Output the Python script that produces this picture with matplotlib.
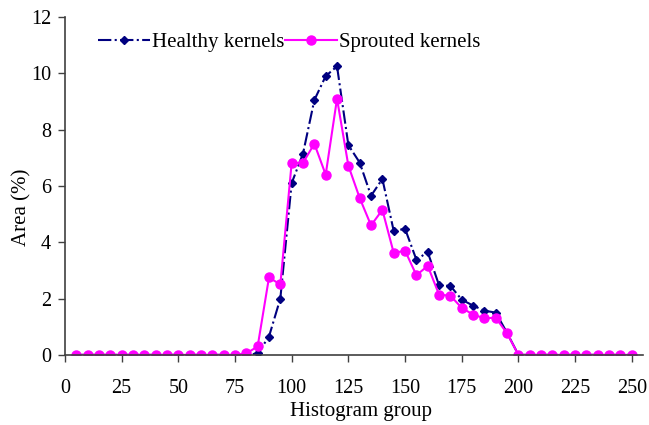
import numpy as np
import matplotlib
matplotlib.use("Agg")
import matplotlib.pyplot as plt

plt.rcParams['font.family'] = ['Liberation Serif', 'DejaVu Serif']

groups = list(range(5, 255, 5))

healthy = [0]*16 + [0.05, 0.65, 2.0, 6.1, 7.15, 9.05, 9.9, 10.25, 7.45, 6.83,
                    5.65, 6.25, 4.4, 4.48, 3.38, 3.65, 2.47, 2.45, 1.96, 1.75,
                    1.57, 1.5, 0.78] + [0]*11
sprouted = [0]*15 + [0.05, 0.3, 2.75, 2.5, 6.82, 6.82, 7.5, 6.4, 9.1, 6.72,
                     5.57, 4.6, 5.15, 3.62, 3.7, 2.83, 3.16, 2.14, 2.1, 1.67,
                     1.43, 1.3, 1.32, 0.76] + [0]*11

xticks = [0, 25, 50, 75, 100, 125, 150, 175, 200, 225, 250]
yticks = [0, 2, 4, 6, 8, 10, 12]

fig = plt.figure(figsize=(6.49, 4.25), dpi=100)
ax = fig.add_axes([0.100, 0.165, 0.891, 0.795])

ax.plot(groups, healthy, color='#000080', ls='-.', lw=1.5, marker='D', ms=4,
        label='Healthy kernels')
ax.plot(groups, sprouted, color='#FF00FF', ls='-', lw=1.5, marker='o', ms=6.5,
        label='Sprouted kernels')

ax.set_xlim(0, 255)
ax.set_ylim(0, 12)
ax.set_xticks(xticks)
ax.set_yticks(yticks)
ax.tick_params(labelsize=14.5, direction='out', length=5, width=1, color='#404040')
ax.tick_params(axis='x', pad=12.5)
ax.tick_params(axis='y', pad=5)
for s in ['top', 'right']:
    ax.spines[s].set_visible(False)
for s in ['left', 'bottom']:
    ax.spines[s].set_color('#404040')
    ax.spines[s].set_linewidth(1.2)

ax.set_xlabel('Histogram group', fontsize=15)
ax.set_ylabel('Area (%)', fontsize=15)
ax.xaxis.set_label_coords(0.512, -0.139)
ax.yaxis.set_label_coords(-0.057, 0.437)

ax.legend(loc='center left', bbox_to_anchor=(0.151, 0.901), bbox_transform=fig.transFigure,
          ncol=2, frameon=False, fontsize=15, handlelength=2.5, handletextpad=0.1,
          columnspacing=0.0, borderpad=0, borderaxespad=0)

fig.savefig('out.png', dpi=100)
